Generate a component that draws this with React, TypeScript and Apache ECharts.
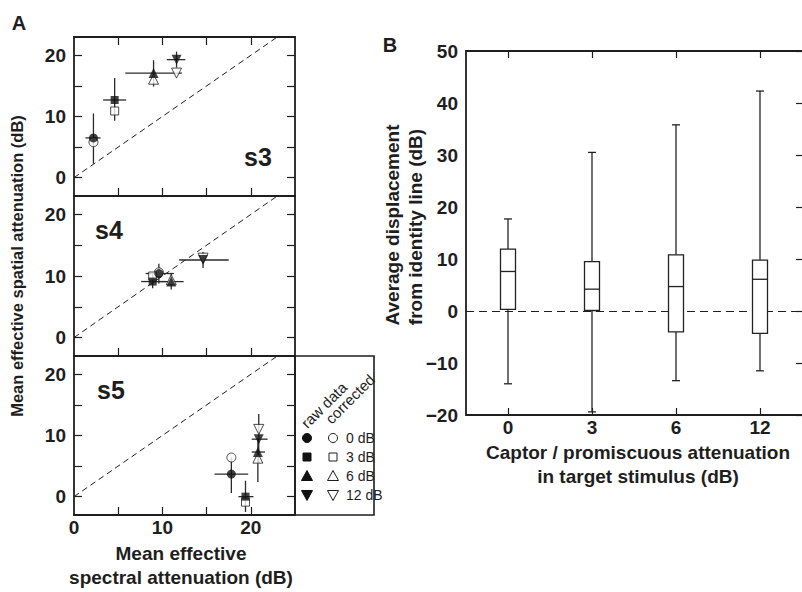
import React, { useEffect, useRef } from "react";
import * as echarts from "echarts";

// ---------------- Panel A data ----------------
const panelNames = ["s3", "s4", "s5"];
const levelNames = ["0 dB", "3 dB", "6 dB", "12 dB"];
const levelSymbols = ["circle", "rect", "triangle", "triangle"];
const levelRotate = [0, 0, 0, 180];
const levelSizes = [9, 8, 10, 10];

// raw data per level: [x, y, xLow, xHigh, yLow, yHigh]
const s3Raw = [
  [2.2, 6.5, 1.3, 3.0, 2.3, 10.5],
  [4.6, 12.7, 3.3, 5.9, 9.3, 16.3],
  [9.0, 17.1, 5.8, 12.2, 14.9, 19.2],
  [11.6, 19.3, 10.5, 12.6, 18.0, 20.6],
];
const s3Corrected = [5.8, 10.9, 16.1, 17.1];

const s4Raw = [
  [9.6, 10.4, 8.1, 11.3, 8.8, 12.0],
  [8.9, 9.1, 7.6, 10.4, 8.0, 10.3],
  [11.0, 9.1, 8.7, 12.4, 7.8, 10.5],
  [14.6, 12.6, 11.9, 17.5, 11.3, 13.9],
];
const s4Corrected = [10.6, 10.0, 9.4, 12.9];

const s5Raw = [
  [17.8, 3.7, 15.9, 19.7, 0.6, 6.4],
  [19.4, 0.0, 18.6, 20.3, -2.5, 2.6],
  [20.8, 7.3, 20.1, 21.6, 2.4, 9.6],
  [20.9, 9.4, 20.1, 21.9, 5.5, 13.5],
];
const s5Corrected = [6.4, -0.9, 6.3, 11.0];

const panelRaw = [s3Raw, s4Raw, s5Raw];
const panelCorrected = [s3Corrected, s4Corrected, s5Corrected];
const identityLine = [
  [0, 0],
  [25, 25],
];

// ---------------- Panel B data ----------------
const boxCategories = ["0", "3", "6", "12"];
const whiskerLow = [-14.0, -19.4, -13.4, -11.5];
const quartile1 = [0.3, 0.1, -4.0, -4.3];
const medians = [7.6, 4.2, 4.7, 6.1];
const quartile3 = [11.9, 9.5, 10.8, 9.8];
const whiskerHigh = [17.7, 30.5, 35.8, 42.3];

const FONT = "'Liberation Sans', Arial, Helvetica, sans-serif";
const INK = "#1e1e1e";

export default function App() {
  const ref = useRef<HTMLDivElement>(null);

  useEffect(() => {
    document.body.style.margin = "0";
    if (!ref.current) return;
    const chart = echarts.init(ref.current, undefined, { renderer: "svg" });

    const gridsA = [
      { left: 74, top: 37, width: 221, height: 159 },
      { left: 74, top: 196, width: 221, height: 160 },
      { left: 74, top: 356, width: 221, height: 159 },
    ];
    const gridB = { left: 466, top: 51, width: 337, height: 364 };

    const axisLine = { show: true, onZero: false, lineStyle: { color: INK, width: 1.8 } };
    const tickStyle = { color: INK, width: 1.2 };
    const boldLabel = {
      fontFamily: FONT,
      fontWeight: "bold" as const,
      fontSize: 19,
      color: INK,
    };

    const xAxes: any[] = [];
    const yAxes: any[] = [];
    const series: any[] = [];

    gridsA.forEach((_, i) => {
      xAxes.push({
        type: "value",
        gridIndex: i,
        position: "bottom",
        min: 0,
        max: 25,
        interval: 5,
        axisLine,
        axisTick: {
          show: true,
          inside: true,
          length: 8,
          lineStyle: tickStyle,
          customValues: [5, 10, 15, 20],
        },
        axisLabel: {
          show: i === 2,
          ...boldLabel,
          margin: 3,
          customValues: [0, 10, 20],
        },
        splitLine: { show: false },
      });
      xAxes.push({
        type: "value",
        gridIndex: i,
        position: "top",
        min: 0,
        max: 25,
        interval: 5,
        axisLine,
        axisTick: {
          show: i === 0,
          inside: true,
          length: 8,
          lineStyle: tickStyle,
          customValues: [5, 10, 15, 20],
        },
        axisLabel: { show: false },
        splitLine: { show: false },
      });
      yAxes.push({
        type: "value",
        gridIndex: i,
        position: "left",
        min: -3,
        max: 23,
        axisLine,
        axisTick: {
          show: true,
          inside: true,
          length: 8,
          lineStyle: tickStyle,
          customValues: [0, 5, 10, 15, 20],
        },
        axisLabel: {
          show: true,
          ...boldLabel,
          margin: 8,
          customValues: [0, 10, 20],
        },
        splitLine: { show: false },
      });
      yAxes.push({
        type: "value",
        gridIndex: i,
        position: "right",
        min: -3,
        max: 23,
        axisLine,
        axisTick: {
          show: true,
          inside: true,
          length: 8,
          lineStyle: tickStyle,
          customValues: [0, 5, 10, 15, 20],
        },
        axisLabel: { show: false },
        splitLine: { show: false },
      });
    });

    gridsA.forEach((_, i) => {
      const xi = i * 2;
      const yi = i * 2;
      series.push({
        type: "line",
        xAxisIndex: xi,
        yAxisIndex: yi,
        data: identityLine,
        symbol: "none",
        clip: true,
        lineStyle: { color: INK, width: 1, type: [6, 4] },
        silent: true,
        z: 1,
      });
      series.push({
        type: "custom",
        xAxisIndex: xi,
        yAxisIndex: yi,
        data: panelRaw[i],
        renderItem: (_p: any, api: any) => {
          const c = api.coord([api.value(0), api.value(1)]);
          const xl = api.coord([api.value(2), api.value(1)]);
          const xh = api.coord([api.value(3), api.value(1)]);
          const yl = api.coord([api.value(0), api.value(4)]);
          const yh = api.coord([api.value(0), api.value(5)]);
          const st = { stroke: "#2a2a2a", lineWidth: 1.3 };
          return {
            type: "group",
            children: [
              { type: "line", shape: { x1: xl[0], y1: c[1], x2: xh[0], y2: c[1] }, style: st },
              { type: "line", shape: { x1: c[0], y1: yl[1], x2: c[0], y2: yh[1] }, style: st },
            ],
          };
        },
        encode: { x: [0, 2, 3], y: [1, 4, 5] },
        silent: true,
        z: 2,
      });
      levelNames.forEach((lv, k) => {
        series.push({
          type: "scatter",
          name: lv + " corrected",
          xAxisIndex: xi,
          yAxisIndex: yi,
          data: [[panelRaw[i][k][0], panelCorrected[i][k]]],
          symbol: levelSymbols[k],
          symbolRotate: levelRotate[k],
          symbolSize: levelSizes[k],
          itemStyle: { color: "#ffffff", borderColor: INK, borderWidth: 1 },
          silent: true,
          z: 3,
        });
      });
      levelNames.forEach((lv, k) => {
        series.push({
          type: "scatter",
          name: lv + " raw",
          xAxisIndex: xi,
          yAxisIndex: yi,
          data: [[panelRaw[i][k][0], panelRaw[i][k][1]]],
          symbol: levelSymbols[k],
          symbolRotate: levelRotate[k],
          symbolSize: levelSizes[k],
          itemStyle: { color: "#111111" },
          silent: true,
          z: 4,
        });
      });
    });

    // Panel B axes
    const bx = xAxes.length;
    xAxes.push({
      type: "category",
      gridIndex: 3,
      position: "bottom",
      data: boxCategories,
      axisLine,
      axisTick: { show: true, inside: true, alignWithLabel: true, length: 7, lineStyle: tickStyle },
      axisLabel: { ...boldLabel, margin: 3 },
      splitLine: { show: false },
    });
    xAxes.push({
      type: "category",
      gridIndex: 3,
      position: "top",
      data: boxCategories,
      axisLine,
      axisTick: { show: true, inside: true, alignWithLabel: true, length: 7, lineStyle: tickStyle },
      axisLabel: { show: false },
      splitLine: { show: false },
    });
    const by = yAxes.length;
    yAxes.push({
      type: "value",
      gridIndex: 3,
      position: "left",
      min: -20,
      max: 50,
      interval: 10,
      axisLine,
      axisTick: { show: false },
      axisLabel: {
        ...boldLabel,
        margin: 8,
        formatter: (v: number) => (v < 0 ? "\u2212" + Math.abs(v) : String(v)),
      },
      splitLine: { show: false },
    });
    yAxes.push({
      type: "value",
      gridIndex: 3,
      position: "right",
      min: -20,
      max: 50,
      interval: 10,
      axisLine: { show: false, onZero: false },
      axisTick: { show: true, inside: true, length: 6, lineStyle: tickStyle },
      axisLabel: { show: false },
      splitLine: { show: false },
    });

    const boxData = boxCategories.map((_, i) => [
      i,
      whiskerLow[i],
      quartile1[i],
      medians[i],
      quartile3[i],
      whiskerHigh[i],
    ]);

    series.push({
      type: "scatter",
      xAxisIndex: bx,
      yAxisIndex: by,
      data: [],
      silent: true,
      markLine: {
        silent: true,
        symbol: "none",
        label: { show: false },
        lineStyle: { color: INK, width: 1.2, type: [8, 5] },
        data: [{ yAxis: 0 }],
      },
    });
    series.push({
      type: "custom",
      xAxisIndex: bx,
      yAxisIndex: by,
      data: boxData,
      encode: { x: 0, y: [1, 2, 3, 4, 5] },
      silent: true,
      z: 5,
      renderItem: (_p: any, api: any) => {
        const idx = api.value(0);
        const pLow = api.coord([idx, api.value(1)]);
        const pQ1 = api.coord([idx, api.value(2)]);
        const pMed = api.coord([idx, api.value(3)]);
        const pQ3 = api.coord([idx, api.value(4)]);
        const pHigh = api.coord([idx, api.value(5)]);
        const cx = pMed[0];
        const hw = 7.5;
        const cap = 4;
        const st = { stroke: "#222", lineWidth: 1.3 };
        return {
          type: "group",
          children: [
            { type: "line", shape: { x1: cx, y1: pLow[1], x2: cx, y2: pQ1[1] }, style: st },
            { type: "line", shape: { x1: cx, y1: pQ3[1], x2: cx, y2: pHigh[1] }, style: st },
            { type: "line", shape: { x1: cx - cap, y1: pLow[1], x2: cx + cap, y2: pLow[1] }, style: st },
            { type: "line", shape: { x1: cx - cap, y1: pHigh[1], x2: cx + cap, y2: pHigh[1] }, style: st },
            {
              type: "rect",
              shape: { x: cx - hw, y: pQ3[1], width: hw * 2, height: pQ1[1] - pQ3[1] },
              style: { fill: "#ffffff", stroke: "#222", lineWidth: 1.3 },
            },
            { type: "line", shape: { x1: cx - hw, y1: pMed[1], x2: cx + hw, y2: pMed[1] }, style: st },
          ],
        };
      },
    });

    const txt = (text: string, x: number, y: number, size: number, rotation = 0, bold = true) => ({
      type: "text",
      x,
      y,
      rotation,
      silent: true,
      style: {
        text,
        fontFamily: FONT,
        fontWeight: bold ? "bold" : "normal",
        fontSize: size,
        fill: INK,
        textAlign: "center",
        textVerticalAlign: "middle",
      },
    });

    const legendX1 = 307;
    const legendX2 = 333;
    const legendRows = [438, 457, 476, 495];
    const graphics: any[] = [
      txt("A", 19, 23, 20),
      txt("B", 390, 45, 20),
      txt(panelNames[0], 258, 157, 25),
      txt(panelNames[1], 109, 230, 25),
      txt(panelNames[2], 111, 390, 25),
      txt("Mean effective spatial attenuation (dB)", 17, 266, 16.5, Math.PI / 2),
      txt("Mean effective", 181, 553, 19),
      txt("spectral attenuation (dB)", 181, 577, 19),
      txt("Average displacement", 392, 225, 19, Math.PI / 2),
      txt("from identity line (dB)", 415, 227, 19, Math.PI / 2),
      txt("Captor / promiscuous attenuation", 638, 452, 19),
      txt("in target stimulus (dB)", 638, 476, 19),
      {
        type: "rect",
        silent: true,
        shape: { x: 295, y: 356, width: 79, height: 159 },
        style: { fill: "none", stroke: INK, lineWidth: 1.6 },
      },
      txt("raw data", 324, 405, 15, Math.PI / 4, false),
      txt("corrected", 350, 399, 15, Math.PI / 4, false),
    ];

    levelNames.forEach((lv, k) => {
      const y = legendRows[k];
      graphics.push({
        type: "text",
        x: 346,
        y,
        silent: true,
        style: {
          text: lv,
          fontFamily: FONT,
          fontSize: 14,
          fill: INK,
          textAlign: "left",
          textVerticalAlign: "middle",
        },
      });
      const mk = (cx: number, filled: boolean) => {
        const style = filled
          ? { fill: "#111", stroke: "#111", lineWidth: 1 }
          : { fill: "#fff", stroke: INK, lineWidth: 1 };
        if (k === 0) return { type: "circle", silent: true, shape: { cx, cy: y, r: 4.5 }, style };
        if (k === 1)
          return { type: "rect", silent: true, shape: { x: cx - 4, y: y - 4, width: 8, height: 8 }, style };
        if (k === 2)
          return {
            type: "polygon",
            silent: true,
            shape: { points: [[cx, y - 5.5], [cx + 5.5, y + 4.5], [cx - 5.5, y + 4.5]] },
            style,
          };
        return {
          type: "polygon",
          silent: true,
          shape: { points: [[cx, y + 5.5], [cx + 5.5, y - 4.5], [cx - 5.5, y - 4.5]] },
          style,
        };
      };
      graphics.push(mk(legendX1, true));
      graphics.push(mk(legendX2, false));
    });

    chart.setOption({
      animation: false,
      backgroundColor: "#ffffff",
      grid: [...gridsA, gridB].map((g) => ({ ...g, containLabel: false })),
      xAxis: xAxes,
      yAxis: yAxes,
      series,
      graphic: graphics,
    });

    return () => chart.dispose();
  }, []);

  return <div ref={ref} style={{ width: 802, height: 592 }} />;
}
